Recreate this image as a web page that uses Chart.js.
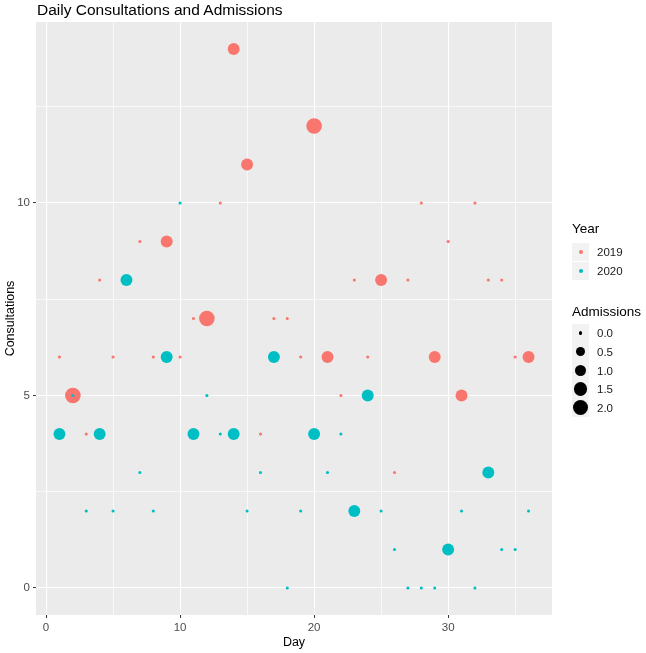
<!DOCTYPE html>
<html>
<head>
<meta charset="utf-8">
<script src="https://cdn.jsdelivr.net/npm/chart.js@4"></script>
<style>
    body { margin: 0; background: #ffffff; font-family: "Liberation Sans", Arial, sans-serif; }
    #wrap { position: relative; width: 646px; height: 653px; }
    #title { position: absolute; left: 37px; top: 1px; font-size: 15.5px; color: #000; }
    .lg-title { position: absolute; left: 572px; font-size: 13.5px; color: #000; }
    .key { position: absolute; left: 572px; width: 17px; background: #f2f2f2; }
    .dot { position: absolute; border-radius: 50%; }
    .lg-label { position: absolute; left: 597px; font-size: 11.5px; color: #1a1a1a; line-height: 12px; }
</style>
</head>
<body>
<div id="wrap">
    <canvas id="chart"></canvas>
    <div id="title">Daily Consultations and Admissions</div>
    <div id="legend"></div>
</div>
<script>
const days = [1, 2, 3, 4, 5, 6, 7, 8, 9, 10, 11, 12, 13, 14, 15, 16, 17, 18,
    19, 20, 21, 22, 23, 24, 25, 26, 27, 28, 29, 30, 31, 32, 33, 34, 35, 36];
const consultations2019 = [6, 5, 4, 8, 6, 8, 9, 6, 9, 6, 7, 7, 10, 14, 11, 4, 7, 7,
    6, 12, 6, 5, 8, 6, 8, 3, 8, 10, 6, 9, 5, 10, 8, 8, 6, 6];
const admissions2019 = [0, 2, 0, 0, 0, 0, 0, 0, 1, 0, 0, 2, 0, 1, 1, 0, 0, 0,
    0, 2, 1, 0, 0, 0, 1, 0, 0, 0, 1, 0, 1, 0, 0, 0, 0, 1];
const consultations2020 = [4, 5, 2, 4, 2, 8, 3, 2, 6, 10, 4, 5, 4, 4, 2, 3, 6, 0,
    2, 4, 3, 4, 2, 5, 2, 1, 0, 0, 0, 1, 2, 0, 3, 1, 1, 2];
const admissions2020 = [1, 0, 0, 1, 0, 1, 0, 0, 1, 0, 1, 0, 0, 1, 0, 0, 1, 0,
    0, 1, 0, 0, 1, 1, 0, 0, 0, 0, 0, 1, 0, 0, 1, 0, 0, 0];
const years = ['2019', '2020'];
const admissionBreaks = [0.0, 0.5, 1.0, 1.5, 2.0];
const xMajorTicks = [0, 10, 20, 30];
const xMinorTicks = [5, 15, 25, 35];
const yMajorTicks = [0, 5, 10];
const yMinorTicks = [2.5, 7.5, 12.5];

const colors = { '2019': '#F8766D', '2020': '#00BFC4' };

// ggplot style area scale: size 1..6 over admissions 0..2, then to pixels
const radiusFor = (a) => {
    const size = 1 + 5 * Math.sqrt(a / 2);
    return 0.3 + 1.25 * size;
};

const toPoints = (cons, adm) => days.map((d, i) => ({ x: d, y: cons[i], a: adm[i] }));

const panelBg = {
    id: 'panelBg',
    beforeDraw(chart) {
        const { ctx, chartArea: ca } = chart;
        ctx.save();
        ctx.fillStyle = '#EBEBEB';
        ctx.fillRect(ca.left, ca.top, ca.right - ca.left, ca.bottom - ca.top);
        ctx.restore();
    },
};

const gridFor = (major) => ({
    color: '#FFFFFF',
    lineWidth: (c) => (c.tick && major.includes(c.tick.value) ? 1.1 : 0.7),
    tickColor: (c) => (c.tick && major.includes(c.tick.value) ? '#333333' : 'rgba(0,0,0,0)'),
    tickWidth: 1,
    tickLength: 3,
    drawTicks: true,
});

new Chart(document.getElementById('chart'), {
    type: 'scatter',
    data: {
        datasets: [
            {
                label: years[1],
                data: toPoints(consultations2020, admissions2020),
                backgroundColor: colors['2020'],
                order: 0,
            },
            {
                label: years[0],
                data: toPoints(consultations2019, admissions2019),
                backgroundColor: colors['2019'],
                order: 1,
            },
        ],
    },
    options: {
        responsive: true,
        maintainAspectRatio: false,
        animation: false,
        events: [],
        layout: { padding: { top: 22, right: 94, left: 0, bottom: 0 } },
        elements: {
            point: {
                radius: (c) => radiusFor(c.raw ? c.raw.a : 0),
                borderWidth: 0,
                pointStyle: 'circle',
            },
        },
        plugins: {
            legend: { display: false },
            tooltip: { enabled: false },
        },
        scales: {
            x: {
                type: 'linear',
                min: -0.75,
                max: 37.75,
                afterBuildTicks: (s) => { s.ticks = [...xMajorTicks, ...xMinorTicks].sort((p, q) => p - q).map((v) => ({ value: v })); },
                afterFit: (s) => { s.height = 38; },
                grid: gridFor(xMajorTicks),
                border: { display: false },
                ticks: {
                    autoSkip: false,
                    maxRotation: 0,
                    padding: 3,
                    color: '#4D4D4D',
                    font: { family: 'Liberation Sans', size: 11.5 },
                    callback: (v) => (xMajorTicks.includes(v) ? String(v) : ''),
                },
                title: {
                    display: true,
                    text: 'Day',
                    color: '#000',
                    padding: { top: 0, bottom: 3 },
                    font: { family: 'Liberation Sans', size: 12.5 },
                },
            },
            y: {
                type: 'linear',
                min: -0.7,
                max: 14.7,
                afterBuildTicks: (s) => { s.ticks = [...yMajorTicks, ...yMinorTicks].sort((p, q) => p - q).map((v) => ({ value: v })); },
                afterFit: (s) => { s.width = 36; },
                grid: gridFor(yMajorTicks),
                border: { display: false },
                ticks: {
                    autoSkip: false,
                    padding: 3,
                    color: '#4D4D4D',
                    font: { family: 'Liberation Sans', size: 11.5 },
                    callback: (v) => (yMajorTicks.includes(v) ? String(v) : ''),
                },
                title: {
                    display: true,
                    text: 'Consultations',
                    color: '#000',
                    padding: { top: 3, bottom: 0 },
                    font: { family: 'Liberation Sans', size: 12.5 },
                },
            },
        },
    },
    plugins: [panelBg],
});

// legend, drawn as html next to the panel
const legend = document.getElementById('legend');
const addTitle = (text, top) => {
    const el = document.createElement('div');
    el.className = 'lg-title';
    el.style.top = top + 'px';
    el.textContent = text;
    legend.appendChild(el);
};
const addRow = (top, height, diameter, color, text) => {
    const key = document.createElement('div');
    key.className = 'key';
    key.style.top = top + 'px';
    key.style.height = height + 'px';
    const dot = document.createElement('div');
    dot.className = 'dot';
    dot.style.width = diameter + 'px';
    dot.style.height = diameter + 'px';
    dot.style.left = (8.5 - diameter / 2) + 'px';
    dot.style.top = (height / 2 - diameter / 2) + 'px';
    dot.style.background = color;
    key.appendChild(dot);
    legend.appendChild(key);
    const label = document.createElement('div');
    label.className = 'lg-label';
    label.style.top = (top + height / 2 - 6) + 'px';
    label.textContent = text;
    legend.appendChild(label);
};

addTitle('Year', 221);
addRow(243, 18, 4, colors['2019'], years[0]);
addRow(262, 18, 4, colors['2020'], years[1]);

addTitle('Admissions', 304);
const rowTops = [324, 342, 361, 380, 398];
const rowHeights = [18, 19, 19, 18, 19];
admissionBreaks.forEach((b, i) => {
    addRow(rowTops[i], rowHeights[i], 2 * radiusFor(b), '#000000', b.toFixed(1));
});
</script>
</body>
</html>
